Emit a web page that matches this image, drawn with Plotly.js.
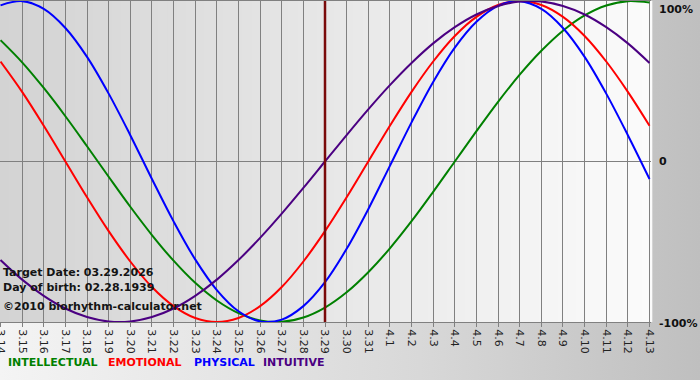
<!DOCTYPE html>
<html>
<head>
<meta charset="utf-8">
<script src="https://cdn.plot.ly/plotly-3.0.1.min.js"></script>
<style>
  html, body { margin: 0; padding: 0; }
  #chart { width: 700px; height: 380px; background: linear-gradient(to right, #f4f4f4 0%, #d8d8d8 60%, #bfbfbf 100%); }
</style>
</head>
<body>
<div id="chart"></div>
<script>
// Day labels (month.day)
const dateLabels = ["3.14","3.15","3.16","3.17","3.18","3.19","3.20","3.21","3.22","3.23","3.24","3.25","3.26","3.27","3.28","3.29","3.30","3.31","4.1","4.2","4.3","4.4","4.5","4.6","4.7","4.8","4.9","4.10","4.11","4.12","4.13"];
const targetLabel = "3.29";

// Series values (fraction of 100%)
const intellectual = [0.756,0.618,0.458,0.282,0.095,-0.095,-0.282,-0.458,-0.618,-0.756,-0.866,-0.945,-0.990,-0.999,-0.972,-0.910,-0.815,-0.690,-0.541,-0.372,-0.189,0.000,0.189,0.372,0.541,0.690,0.815,0.910,0.972,0.999,0.990];
const emotional    = [0.623,0.434,0.223,0.000,-0.223,-0.434,-0.623,-0.782,-0.901,-0.975,-1.000,-0.975,-0.901,-0.782,-0.623,-0.434,-0.223,0.000,0.223,0.434,0.623,0.782,0.901,0.975,1.000,0.975,0.901,0.782,0.623,0.434,0.223];
const physical     = [0.973,0.999,0.951,0.832,0.652,0.423,0.164,-0.109,-0.373,-0.610,-0.801,-0.933,-0.996,-0.985,-0.901,-0.752,-0.544,-0.297,-0.027,0.244,0.496,0.710,0.871,0.970,0.999,0.951,0.832,0.652,0.423,0.164,-0.109];
const intuitive    = [-0.614,-0.736,-0.837,-0.916,-0.969,-0.997,-0.997,-0.969,-0.916,-0.837,-0.736,-0.614,-0.476,-0.325,-0.165,0.000,0.165,0.325,0.476,0.614,0.736,0.837,0.916,0.969,0.997,0.997,0.969,0.916,0.837,0.736,0.614];

const seriesNames  = ["INTELLECTUAL","EMOTIONAL","PHYSICAL","INTUITIVE"];
const seriesColors = ["#008000","#ff0000","#0000ff","#4b0082"];
const yTickVals = [1, 0, -1];
const yTickText = ["100%", "0", "-100%"];
const infoLines = ["Target Date: 03.29.2026", "Day of birth: 02.28.1939", "©2010 biorhythm-calculator.net"];

const xIdx = dateLabels.map((_, i) => i);
const allSeries = [intellectual, emotional, physical, intuitive];

const traces = allSeries.map((vals, k) => ({
  x: xIdx, y: vals, type: "scatter", mode: "lines",
  name: seriesNames[k],
  line: { color: seriesColors[k], width: 2, shape: "spline", smoothing: 1 },
  hoverinfo: "skip", showlegend: false
}));

// Plot background gradient (light grey -> near white), in strips
const shapes = [];
const nStrips = 70;
for (let s = 0; s < nStrips; s++) {
  const t = s / (nStrips - 1);
  const c = Math.round(0xd3 + (0xfb - 0xd3) * t);
  const hex = "#" + c.toString(16).repeat(3);
  shapes.push({ type: "rect", xref: "paper", yref: "paper", x0: s / nStrips, x1: (s + 1) / nStrips + 0.002, y0: 0, y1: 1,
    fillcolor: hex, line: { width: 0 }, layer: "below" });
}
const targetIdx = dateLabels.indexOf(targetLabel);
shapes.push({ type: "line", xref: "x", yref: "paper", x0: targetIdx, x1: targetIdx, y0: 0, y1: 1,
  line: { color: "#7a0a0a", width: 2.5 }, layer: "above" });

const plotW = 651, plotH = 320, plotTop = 1;
const annotations = [];
yTickVals.forEach((v, i) => {
  annotations.push({ xref: "paper", yref: "y", x: 1, y: v, xanchor: "left",
    yanchor: v === 1 ? "top" : "middle", xshift: 6, yshift: v === -1 ? -1 : 0,
    text: yTickText[i], showarrow: false,
    font: { family: "DejaVu Sans", size: 11, color: "#111", weight: "bold" } });
});
const infoY = [272, 287, 306];
infoLines.forEach((t, i) => {
  annotations.push({ xref: "paper", yref: "paper", x: 0, xanchor: "left", xshift: 1,
    y: (plotTop + plotH - infoY[i]) / plotH, yanchor: "middle",
    text: t, showarrow: false,
    font: { family: "DejaVu Sans", size: 11, color: "#141414", weight: "bold" } });
});
const legendX = [7, 107, 193, 262];
seriesNames.forEach((n, i) => {
  annotations.push({ xref: "paper", yref: "paper", x: legendX[i] / plotW, xanchor: "left", xshift: -1,
    y: (plotTop + plotH - 361) / plotH, yanchor: "middle",
    text: n, showarrow: false,
    font: { family: "DejaVu Sans", size: 11, color: seriesColors[i], weight: "bold" } });
});

const layout = {
  width: 700, height: 380,
  margin: { l: 0, r: 49, t: 1, b: 58 },
  paper_bgcolor: "rgba(0,0,0,0)",
  plot_bgcolor: "rgba(0,0,0,0)",
  xaxis: {
    range: [-0.023, 30.069],
    tickvals: xIdx, ticktext: dateLabels, tickangle: 90,
    ticklabeloverflow: "allow",
    tickfont: { family: "DejaVu Sans", size: 11, color: "#222" },
    ticks: "outside", ticklen: 4, tickcolor: "#808080",
    showgrid: true, gridcolor: "#808080", gridwidth: 1,
    showline: true, linecolor: "#808080", linewidth: 1, mirror: true,
    zeroline: false, fixedrange: true
  },
  yaxis: {
    range: [-1, 1], tickvals: yTickVals, showticklabels: false,
    showgrid: false, zeroline: true, zerolinecolor: "#808080", zerolinewidth: 1,
    fixedrange: true
  },
  shapes: shapes,
  annotations: annotations
};

Plotly.newPlot("chart", traces, layout, { displayModeBar: false, staticPlot: true });
</script>
</body>
</html>
